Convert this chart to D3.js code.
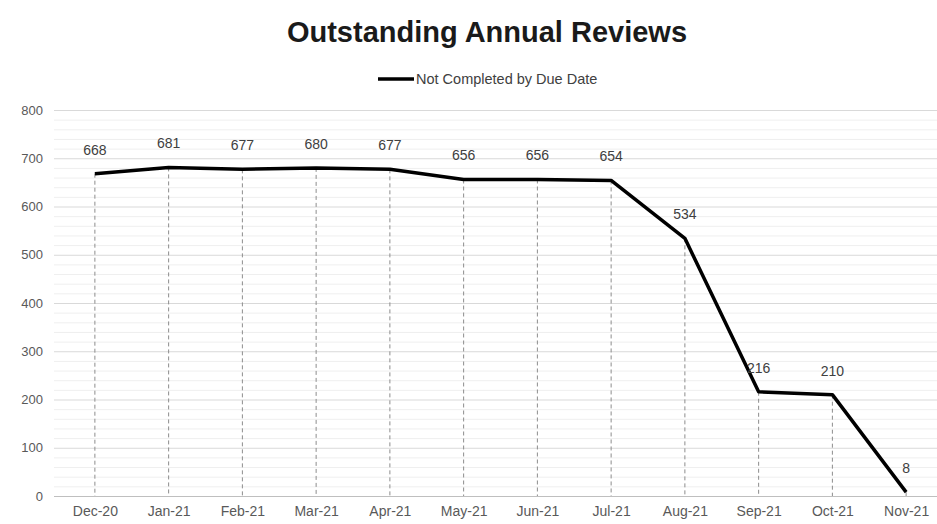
<!DOCTYPE html>
<html>
<head>
<meta charset="utf-8">
<script src="https://cdn.jsdelivr.net/npm/d3@7"></script>
<style>
  body { margin: 0; background: #fff; }
  svg { display: block; font-family: "Liberation Sans", Arial, sans-serif; }
</style>
</head>
<body>
<div id="chart"></div>
<script>
/* DATA */
const months = ["Dec-20", "Jan-21", "Feb-21", "Mar-21", "Apr-21", "May-21",
  "Jun-21", "Jul-21", "Aug-21", "Sep-21", "Oct-21", "Nov-21"];
const notCompleted = [668, 681, 677, 680, 677, 656, 656, 654, 534, 216, 210, 8];
const yTicks = [0, 100, 200, 300, 400, 500, 600, 700, 800];

const width = 937, height = 524;
const margin = {top: 110, right: -6, bottom: 28, left: 58};

const data = months.map((m, i) => ({month: m, value: notCompleted[i]}));

const svg = d3.select("#chart").append("svg")
  .attr("width", width)
  .attr("height", height);

const x = d3.scalePoint()
  .domain(months)
  .range([margin.left, width - margin.right])
  .padding(0.5);

const y = d3.scaleLinear()
  .domain([0, 800])
  .range([height - margin.bottom, margin.top]);

// minor gridlines
svg.append("g")
  .selectAll("line")
  .data(d3.range(0, 801, 20).filter(v => v % 100 !== 0))
  .join("line")
  .attr("x1", margin.left - 4)
  .attr("x2", width)
  .attr("y1", d => y(d) + 0.5)
  .attr("y2", d => y(d) + 0.5)
  .attr("stroke", "#efefef")
  .attr("stroke-width", 1);

// major gridlines
svg.append("g")
  .selectAll("line")
  .data(yTicks)
  .join("line")
  .attr("x1", margin.left - 4)
  .attr("x2", width)
  .attr("y1", d => y(d) + 0.5)
  .attr("y2", d => y(d) + 0.5)
  .attr("stroke", d => d === 0 ? "#bfbfbf" : "#d9d9d9")
  .attr("stroke-width", 1);

// y axis labels
const yAxis = d3.axisLeft(y).tickValues(yTicks).tickSize(0).tickPadding(0);
svg.append("g")
  .attr("transform", `translate(${margin.left - 15},0)`)
  .call(yAxis)
  .call(g => g.select(".domain").remove())
  .selectAll("text")
  .attr("fill", "#595959")
  .style("font-size", "13px");

// x axis labels
const xAxis = d3.axisBottom(x).tickSize(0).tickPadding(0);
svg.append("g")
  .attr("transform", `translate(0,${height - margin.bottom + 10})`)
  .call(xAxis)
  .call(g => g.select(".domain").remove())
  .selectAll("text")
  .attr("fill", "#595959")
  .style("font-size", "14px");

// drop lines
svg.append("g")
  .selectAll("line")
  .data(data)
  .join("line")
  .attr("x1", d => x(d.month))
  .attr("x2", d => x(d.month))
  .attr("y1", d => y(d.value))
  .attr("y2", y(0))
  .attr("stroke", "#8c8c8c")
  .attr("stroke-width", 1)
  .attr("stroke-dasharray", "4,3");

// the line
const line = d3.line()
  .x(d => x(d.month))
  .y(d => y(d.value));

svg.append("path")
  .datum(data)
  .attr("d", line)
  .attr("fill", "none")
  .attr("stroke", "#000")
  .attr("stroke-width", 3.5)
  .attr("stroke-linejoin", "round");

// data labels
svg.append("g")
  .selectAll("text")
  .data(data)
  .join("text")
  .attr("x", d => x(d.month))
  .attr("y", d => y(d.value) - 19)
  .attr("text-anchor", "middle")
  .attr("fill", "#404040")
  .style("font-size", "14px")
  .text(d => d.value);

// title
svg.append("text")
  .attr("x", 487)
  .attr("y", 42)
  .attr("text-anchor", "middle")
  .style("font-size", "29px")
  .style("font-weight", "bold")
  .attr("fill", "#1a1a1a")
  .text("Outstanding Annual Reviews");

// legend
const legend = svg.append("g").attr("transform", "translate(378,79)");
legend.append("line")
  .attr("x1", 0).attr("x2", 36)
  .attr("y1", 0).attr("y2", 0)
  .attr("stroke", "#000")
  .attr("stroke-width", 3.5);
legend.append("text")
  .attr("x", 38)
  .attr("y", 5)
  .attr("fill", "#404040")
  .style("font-size", "14.5px")
  .text("Not Completed by Due Date");
</script>
</body>
</html>
